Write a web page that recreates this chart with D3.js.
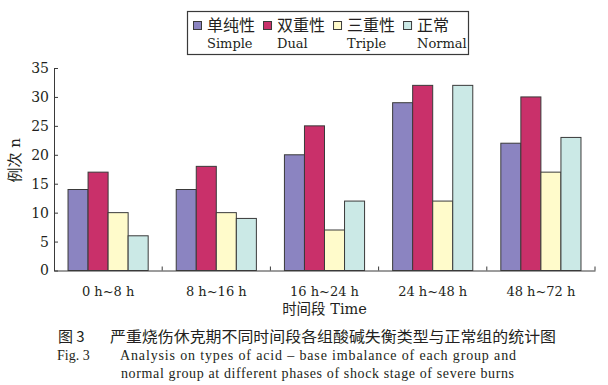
<!DOCTYPE html>
<html>
<head>
<meta charset="utf-8">
<script src="https://cdn.jsdelivr.net/npm/d3@7"></script>
<style>
  body { margin: 0; background: #fff; }
  svg { display: block; }
</style>
</head>
<body>
<div id="chart"></div>
<script>
// ---- data ----
const periods = ["0 h~8 h", "8 h~16 h", "16 h~24 h", "24 h~48 h", "48 h~72 h"];
const seriesKeys = ["simple", "dual", "triple", "normal"];
const seriesCN = ["单纯性", "双重性", "三重性", "正常"];
const seriesEN = ["Simple", "Dual", "Triple", "Normal"];
const simpleVals = [14, 14, 20, 29, 22];
const dualVals = [17, 18, 25, 32, 30];
const tripleVals = [10, 10, 7, 12, 17];
const normalVals = [6, 9, 12, 32, 23];
const yTicks = [0, 5, 10, 15, 20, 25, 30, 35];

const seriesVals = { simple: simpleVals, dual: dualVals, triple: tripleVals, normal: normalVals };
const colors = { simple: "#8b84c1", dual: "#c9306a", triple: "#fffbcb", normal: "#cbe9e6" };

const width = 608;
const height = 385;
const margin = { top: 68, right: 13, bottom: 114.5, left: 54 };
const serif = "'DejaVu Serif', 'Noto Sans CJK SC', serif";
const cjk = "'Noto Sans CJK SC', sans-serif";
const ink = "#231f20";

const svg = d3.select("#chart")
  .append("svg")
  .attr("width", width)
  .attr("height", height);

const x0 = d3.scaleBand()
  .domain(periods)
  .range([margin.left, width - margin.right])
  .padding(0);

const x1 = d3.scaleBand()
  .domain(seriesKeys)
  .range([0, x0.bandwidth()])
  .paddingInner(0)
  .paddingOuter(0.7);

const y = d3.scaleLinear()
  .domain([0, 35])
  .range([height - margin.bottom, margin.top]);

// ========== bars ==========
const groups = svg.selectAll("g.group")
  .data(periods)
  .enter()
  .append("g")
  .attr("class", "group")
  .attr("transform", d => `translate(${x0(d)},0)`);

groups.selectAll("rect")
  .data((p, i) => seriesKeys.map(k => ({ key: k, value: seriesVals[k][i] })))
  .enter()
  .append("rect")
  .attr("x", d => x1(d.key))
  .attr("y", d => y(d.value))
  .attr("width", x1.bandwidth())
  .attr("height", d => y(0) - y(d.value))
  .attr("fill", d => colors[d.key])
  .attr("stroke", "#3a3a3a")
  .attr("stroke-width", 1);

// ========== axes ==========
const yAxis = svg.append("g")
  .attr("transform", `translate(${margin.left},0)`)
  .call(d3.axisLeft(y).tickValues(yTicks).tickSizeInner(-4).tickSizeOuter(0).tickPadding(5));
yAxis.select(".domain").attr("stroke", "#3a3a3a");
yAxis.selectAll(".tick line").attr("stroke", "#3a3a3a");
yAxis.selectAll(".tick text")
  .style("font-family", serif)
  .style("font-size", "14px")
  .attr("fill", ink);

const xAxis = svg.append("g")
  .attr("transform", `translate(0,${y(0)})`)
  .call(d3.axisBottom(x0).tickSize(0).tickPadding(16));
xAxis.select(".domain").attr("stroke", "#3a3a3a");
xAxis.selectAll(".tick text")
  .style("font-family", serif)
  .style("font-size", "13px")
  .attr("fill", ink);

// tick marks between the groups, pointing up
xAxis.selectAll("line.sep")
  .data(periods)
  .enter()
  .append("line")
  .attr("class", "sep")
  .attr("x1", d => x0(d) + x0.bandwidth())
  .attr("x2", d => x0(d) + x0.bandwidth())
  .attr("y1", 0)
  .attr("y2", -4)
  .attr("stroke", "#3a3a3a");

// axis titles
svg.append("text")
  .attr("transform", `translate(20,${(y(0) + y(35)) / 2 - 9}) rotate(-90)`)
  .attr("text-anchor", "middle")
  .style("font-family", serif)
  .style("font-size", "15px")
  .attr("fill", ink)
  .text("例次 n");

svg.append("text")
  .attr("x", (margin.left + width - margin.right) / 2)
  .attr("y", 314)
  .attr("text-anchor", "middle")
  .style("font-family", serif)
  .style("font-size", "14.5px")
  .attr("fill", ink)
  .text("时间段 Time");

// ========== legend ==========
const legend = svg.append("g");
legend.append("rect")
  .attr("x", 187.5).attr("y", 11.5)
  .attr("width", 281).attr("height", 43)
  .attr("fill", "#fff")
  .attr("stroke", "#3a3a3a")
  .attr("stroke-width", 1.2);

let lx = 193;
seriesKeys.forEach((k, i) => {
  const item = legend.append("g").attr("transform", `translate(${lx},0)`);
  item.append("rect")
    .attr("x", 0.5).attr("y", 21.5)
    .attr("width", 8).attr("height", 8)
    .attr("fill", colors[k])
    .attr("stroke", "#3a3a3a");
  const cn = item.append("text")
    .attr("x", 14).attr("y", 31)
    .style("font-family", cjk)
    .style("font-size", "16px")
    .attr("fill", ink)
    .text(seriesCN[i]);
  const en = item.append("text")
    .attr("x", 14).attr("y", 48)
    .style("font-family", serif)
    .style("font-size", "13px")
    .attr("fill", ink)
    .text(seriesEN[i]);
  const w = Math.max(cn.node().getComputedTextLength(), en.node().getComputedTextLength());
  lx += 14 + w + 8;
});

// ========== captions ==========
const cap = svg.append("g").attr("fill", ink);
cap.append("text")
  .attr("x", 58).attr("y", 342)
  .style("font-family", cjk).style("font-size", "15px")
  .text("图 3");
cap.append("text")
  .attr("x", 110).attr("y", 342)
  .attr("textLength", 446).attr("lengthAdjust", "spacingAndGlyphs")
  .style("font-family", cjk).style("font-size", "15px")
  .text("严重烧伤休克期不同时间段各组酸碱失衡类型与正常组的统计图");
cap.append("text")
  .attr("x", 57).attr("y", 360)
  .style("font-family", "'Liberation Serif', serif").style("font-size", "14px")
  .text("Fig. 3");
cap.append("text")
  .attr("x", 120).attr("y", 360)
  .attr("textLength", 396).attr("lengthAdjust", "spacing")
  .style("font-family", "'Liberation Serif', serif").style("font-size", "14px")
  .text("Analysis on types of acid – base imbalance of each group and");
cap.append("text")
  .attr("x", 121).attr("y", 378)
  .attr("textLength", 393).attr("lengthAdjust", "spacing")
  .style("font-family", "'Liberation Serif', serif").style("font-size", "14px")
  .text("normal group at different phases of shock stage of severe burns");
</script>
</body>
</html>
